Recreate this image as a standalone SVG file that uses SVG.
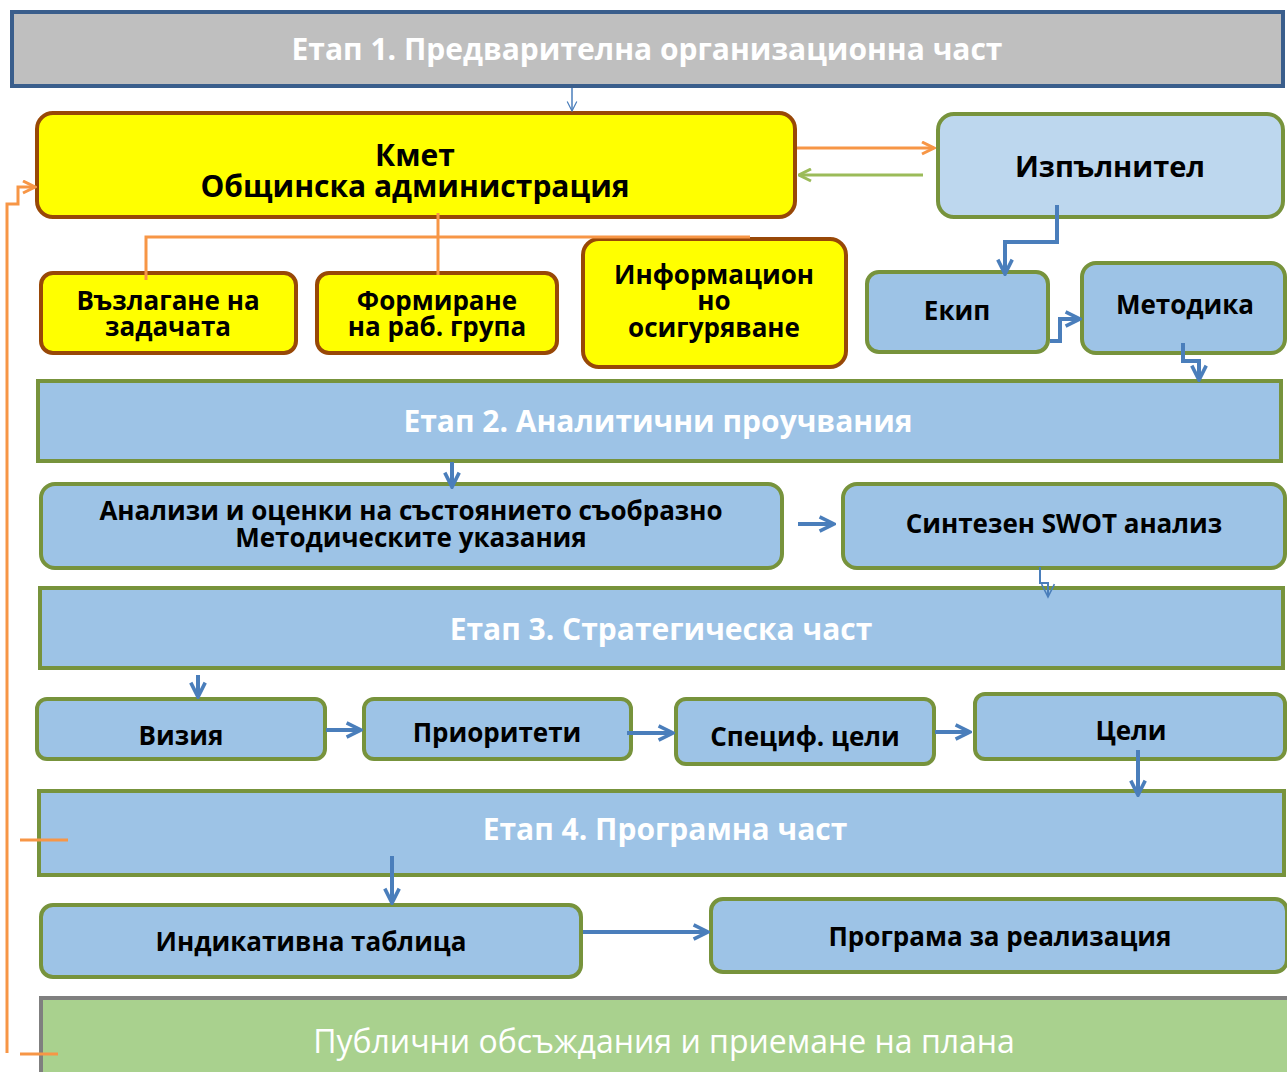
<svg xmlns="http://www.w3.org/2000/svg" width="1287" height="1072" viewBox="0 0 1287 1072">
<defs>
<style>
.stage{fill:#9DC3E6;stroke:#77933C;stroke-width:4}
.box{fill:#9DC3E6;stroke:#77933C;stroke-width:4}
.ybox{fill:#FFFF00;stroke:#984807;stroke-width:4}
.ht{font-family:"Open Sans","Noto Sans",sans-serif;font-weight:bold;font-size:30px;fill:#FFFFFF;text-anchor:middle}
.bt{font-family:"Open Sans","Noto Sans",sans-serif;font-weight:bold;font-size:26px;fill:#000000;text-anchor:middle}
.blue{fill:none;stroke:#4A7EBB;stroke-width:4}
.thin{fill:none;stroke:#4A7EBB;stroke-width:2}
.or{fill:none;stroke:#F79646;stroke-width:3}
</style>
<marker id="ab" viewBox="0 0 10 10" refX="9" refY="5" markerWidth="4.5" markerHeight="4.5" markerUnits="strokeWidth" orient="auto"><path d="M1,1 L9,5 L1,9" fill="none" stroke="#4A7EBB" stroke-width="2"/></marker>
<marker id="abt" viewBox="0 0 10 10" refX="9" refY="5" markerWidth="8" markerHeight="8" markerUnits="strokeWidth" orient="auto"><path d="M1,1 L9,5 L1,9" fill="none" stroke="#4A7EBB" stroke-width="1"/></marker>
<marker id="ao" viewBox="0 0 10 10" refX="9" refY="5" markerWidth="5" markerHeight="5" markerUnits="strokeWidth" orient="auto"><path d="M1,1 L9,5 L1,9" fill="none" stroke="#F79646" stroke-width="2"/></marker>
<marker id="ag" viewBox="0 0 10 10" refX="9" refY="5" markerWidth="5" markerHeight="5" markerUnits="strokeWidth" orient="auto"><path d="M1,1 L9,5 L1,9" fill="none" stroke="#9BBB59" stroke-width="2"/></marker>
</defs>
<rect width="1287" height="1072" fill="#FFFFFF"/>

<g id="stage1"><rect x="12" y="12" width="1271" height="74" fill="#BFBFBF" stroke="#3A5E8C" stroke-width="4"/><text class="ht" x="647" y="60">Етап 1. Предварителна организационна част</text></g>

<g id="kmet"><rect class="ybox" x="37" y="113" width="758" height="104" rx="16"/><text class="bt" style="font-size:30px" x="415" y="166">Кмет</text><text class="bt" style="font-size:30px" x="415" y="197">Общинска администрация</text></g>

<g id="izpalnitel"><rect x="938" y="114" width="345" height="103" rx="16" fill="#BDD7EE" stroke="#77933C" stroke-width="4"/><text class="bt" style="font-size:29px" x="1110" y="177">Изпълнител</text></g>

<g id="vazlagane"><rect class="ybox" x="41" y="273" width="255" height="80" rx="12"/><text class="bt" x="168" y="310">Възлагане на</text><text class="bt" x="168" y="336">задачата</text></g>

<g id="formirane"><rect class="ybox" x="317" y="273" width="240" height="80" rx="12"/><text class="bt" x="437" y="310">Формиране</text><text class="bt" x="437" y="336">на раб. група</text></g>

<g id="informacionno"><rect class="ybox" x="583" y="239" width="263" height="128" rx="16"/><text class="bt" x="714" y="284">Информацион</text><text class="bt" x="714" y="310">но</text><text class="bt" x="714" y="337">осигуряване</text></g>

<g id="ekip"><rect class="box" x="867" y="272" width="181" height="80" rx="12"/><text class="bt" x="957" y="320">Екип</text></g>

<g id="metodika"><rect class="box" x="1082" y="263" width="203" height="90" rx="14"/><text class="bt" x="1185" y="314">Методика</text></g>

<g id="stage2"><rect class="stage" x="38" y="381" width="1243" height="80"/><text class="ht" x="658" y="432">Етап 2. Аналитични проучвания</text></g>

<g id="analizi"><rect class="box" x="41" y="484" width="741" height="84" rx="14"/><text class="bt" x="411" y="520">Анализи и оценки на състоянието съобразно</text><text class="bt" x="411" y="547">Методическите указания</text></g>

<g id="swot"><rect class="box" x="843" y="484" width="442" height="84" rx="14"/><text class="bt" x="1064" y="533">Синтезен SWOT анализ</text></g>

<g id="stage3"><rect class="stage" x="40" y="588" width="1243" height="80"/><text class="ht" x="661" y="640">Етап 3. Стратегическа част</text></g>

<g id="viziya"><rect class="box" x="37" y="699" width="288" height="60" rx="10"/><text class="bt" x="181" y="745">Визия</text></g>
<g id="prioriteti"><rect class="box" x="364" y="699" width="267" height="60" rx="10"/><text class="bt" x="497" y="742">Приоритети</text></g>
<g id="specif"><rect class="box" x="676" y="699" width="258" height="65" rx="10"/><text class="bt" x="805" y="746">Специф. цели</text></g>
<g id="celi"><rect class="box" x="975" y="694" width="310" height="65" rx="10"/><text class="bt" x="1131" y="740">Цели</text></g>

<g id="stage4"><rect class="stage" x="39" y="791" width="1245" height="84"/><text class="ht" x="665" y="840">Етап 4. Програмна част</text></g>

<g id="indikativna"><rect class="box" x="41" y="905" width="540" height="72" rx="12"/><text class="bt" x="311" y="951">Индикативна таблица</text></g>
<g id="programa"><rect class="box" x="711" y="899" width="576" height="73" rx="12"/><text class="bt" x="1000" y="946">Програма за реализация</text></g>

<g id="publichni"><rect x="41" y="998" width="1250" height="80" fill="#A9D18E" stroke="#7F7F7F" stroke-width="4"/><text x="664" y="1053" style="font-family:'Open Sans','Noto Sans',sans-serif;font-size:32px;fill:#FFFFFF;text-anchor:middle">Публични обсъждания и приемане на плана</text></g>

<g id="connectors">
<path d="M572,88 V111" fill="none" stroke="#4A7EBB" stroke-width="1.5" marker-end="url(#abt)"/>
<path class="or" d="M797,148 H934" marker-end="url(#ao)"/>
<path d="M923,175 H799" fill="none" stroke="#9BBB59" stroke-width="3" marker-end="url(#ag)"/>
<path class="blue" d="M1057,205 V242 H1005 V274" marker-end="url(#ab)"/>
<path class="or" d="M438,213 V275"/>
<path class="or" d="M146,280 V237 H750"/>
<path class="blue" d="M1050,341 H1060 V319 H1080" marker-end="url(#ab)"/>
<path class="blue" d="M1183,343 V361 H1199 V380" marker-end="url(#ab)"/>
<path class="blue" d="M452,462 V487" marker-end="url(#ab)"/>
<path class="blue" d="M798,524 H834" marker-end="url(#ab)"/>
<path class="thin" d="M1040,567 V583 H1048 V597" marker-end="url(#abt)"/>
<path class="blue" d="M198,675 V697" marker-end="url(#ab)"/>
<path class="blue" d="M326,730 H361" marker-end="url(#ab)"/>
<path class="blue" d="M627,733 H673" marker-end="url(#ab)"/>
<path class="blue" d="M935,732 H970" marker-end="url(#ab)"/>
<path class="blue" d="M1138,750 V795" marker-end="url(#ab)"/>
<path class="blue" d="M392,856 V903" marker-end="url(#ab)"/>
<path class="blue" d="M583,932 H708" marker-end="url(#ab)"/>
<path class="or" d="M20,840 H68" stroke-width="2"/>
<path class="or" d="M20,1054 H58" stroke-width="4"/>
<path class="or" d="M7,1053 V204 H18 V187 H35" marker-end="url(#ao)"/>
</g>
</svg>
